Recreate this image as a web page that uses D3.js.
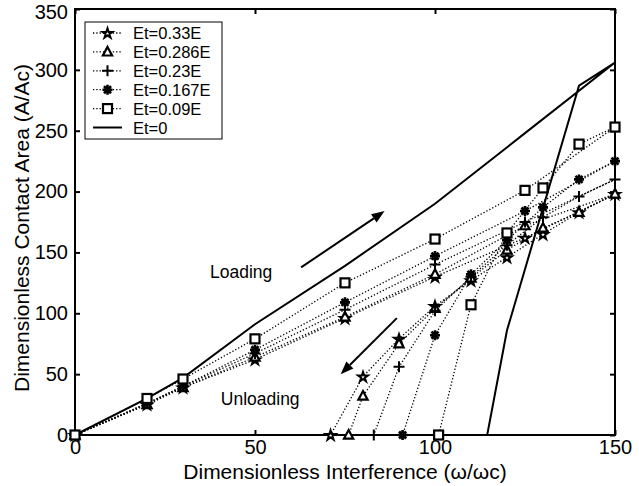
<!DOCTYPE html>
<html>
<head>
<meta charset="utf-8">
<script src="https://cdn.jsdelivr.net/npm/d3@7"></script>
<style>
  body { margin: 0; background: #fff; }
  svg { font-family: "Liberation Sans", Arial, sans-serif; }
</style>
</head>
<body>
<div id="chart"></div>
<script>
// loading abscissae (shared by all Et>0 series)
const loadX = [0, 20, 30, 50, 75, 100, 125, 150];

const seriesNames = ["Et=0.33E", "Et=0.286E", "Et=0.23E", "Et=0.167E", "Et=0.09E"];
const seriesMarkers = ["star", "triangle", "plus", "asterisk", "square"];

const loadStar = [0, 25, 39, 62, 96, 130, 162, 198];
const loadTri = [0, 25, 39, 64, 97, 132, 172, 198];
const loadPlus = [0, 26, 40, 67, 103, 140, 175, 210];
const loadAst = [0, 26, 40, 70, 109, 147, 184, 225];
const loadSq = [0, 30, 46, 79, 125, 161, 201, 253];

const unloadStarX = [150, 140, 130, 120, 110, 100, 90, 80, 71];
const unloadStar = [198, 183, 165, 146, 127, 106, 79, 48, 0];
const unloadTriX = [150, 140, 130, 120, 110, 100, 90, 80, 76];
const unloadTri = [198, 183, 170, 152, 129, 104, 75, 32, 0];
const unloadPlusX = [150, 140, 130, 120, 110, 100, 90, 83];
const unloadPlus = [210, 196, 179, 156, 130, 102, 56, 0];
const unloadAstX = [150, 140, 130, 120, 110, 100, 91];
const unloadAst = [225, 210, 187, 160, 132, 82, 0];
const unloadSqX = [150, 140, 130, 120, 110, 101];
const unloadSq = [253, 239, 203, 166, 107, 0];

// Et=0 (solid)
const elasticX = [0, 20, 30, 50, 75, 100, 125, 150, 140, 120, 114.5];
const elasticY = [0, 30, 47, 91, 139, 190, 248, 306, 287, 86, 0];

const xTicks = [0, 50, 100, 150];
const yTicks = [0, 50, 100, 150, 200, 250, 300, 350];

const loadingArrow = [[62.8, 137.7], [86, 184]];
const unloadingArrow = [[89.4, 96], [73.8, 50]];

const width = 639, height = 486;
const margin = {top: 9, right: 24, bottom: 51, left: 75};

const svg = d3.select("#chart").append("svg")
    .attr("width", width)
    .attr("height", height);

const x = d3.scaleLinear().domain([0, 150]).range([margin.left, width - margin.right]);
const y = d3.scaleLinear().domain([0, 350]).range([height - margin.bottom, margin.top]);

const series = [
    {lx: loadX, ly: loadStar, ux: unloadStarX, uy: unloadStar},
    {lx: loadX, ly: loadTri, ux: unloadTriX, uy: unloadTri},
    {lx: loadX, ly: loadPlus, ux: unloadPlusX, uy: unloadPlus},
    {lx: loadX, ly: loadAst, ux: unloadAstX, uy: unloadAst},
    {lx: loadX, ly: loadSq, ux: unloadSqX, uy: unloadSq}
].map((s, i) => ({
    name: seriesNames[i],
    marker: seriesMarkers[i],
    load: s.lx.map((v, j) => [v, s.ly[j]]),
    unload: s.ux.map((v, j) => [v, s.uy[j]])
}));

// axes with inward ticks on all four sides
const fontTick = 20;
svg.append("g")
    .attr("transform", `translate(0,${y(0)})`)
    .call(d3.axisBottom(x).tickValues(xTicks).tickSize(-5).tickPadding(5).tickSizeOuter(0))
    .call(g => g.select(".domain").remove())
    .call(g => g.selectAll("line").attr("stroke-width", 2))
    .call(g => g.selectAll("text").attr("font-size", fontTick).attr("fill", "#000"));

svg.append("g")
    .attr("transform", `translate(${x(0)},0)`)
    .call(d3.axisLeft(y).tickValues(yTicks).tickSize(-5).tickPadding(7).tickSizeOuter(0))
    .call(g => g.select(".domain").remove())
    .call(g => g.selectAll("line").attr("stroke-width", 2))
    .call(g => g.selectAll("text").attr("font-size", fontTick).attr("fill", "#000"))
    .call(g => g.selectAll(".tick").filter(d => d === 350).select("text").attr("dy", "0.45em"));

svg.append("g")
    .attr("transform", `translate(0,${y(350)})`)
    .call(d3.axisTop(x).tickValues(xTicks).tickSize(-5).tickFormat("").tickSizeOuter(0))
    .call(g => g.select(".domain").remove())
    .call(g => g.selectAll("line").attr("stroke-width", 2));

svg.append("g")
    .attr("transform", `translate(${x(150)},0)`)
    .call(d3.axisRight(y).tickValues(yTicks).tickSize(-5).tickFormat("").tickSizeOuter(0))
    .call(g => g.select(".domain").remove())
    .call(g => g.selectAll("line").attr("stroke-width", 2));

svg.append("rect")
    .attr("x", x(0)).attr("y", y(350))
    .attr("width", x(150) - x(0)).attr("height", y(0) - y(350))
    .attr("fill", "none").attr("stroke", "#000").attr("stroke-width", 2);

// axis titles
svg.append("text")
    .attr("x", (x(0) + x(150)) / 2).attr("y", 479)
    .attr("text-anchor", "middle").attr("font-size", 21)
    .text("Dimensionless Interference (\u03c9/\u03c9c)");

svg.append("text")
    .attr("transform", `translate(29,${(y(0) + y(350)) / 2 + 6}) rotate(-90)`)
    .attr("text-anchor", "middle").attr("font-size", 21)
    .text("Dimensionless Contact Area (A/Ac)");

// marker painter
function drawMarker(g, type, cx, cy) {
    if (type === "square") {
        g.append("rect").attr("x", cx - 4.5).attr("y", cy - 4.5).attr("width", 9).attr("height", 9)
            .attr("fill", "#fff").attr("stroke", "#000").attr("stroke-width", 2.2);
    } else if (type === "triangle") {
        g.append("path")
            .attr("d", `M${cx},${cy - 5}L${cx + 4.6},${cy + 3.6}L${cx - 4.6},${cy + 3.6}Z`)
            .attr("fill", "#fff").attr("stroke", "#000").attr("stroke-width", 2.2);
    } else if (type === "plus") {
        const s = 5.5;
        g.append("path")
            .attr("d", `M${cx - s},${cy}L${cx + s},${cy}M${cx},${cy - s}L${cx},${cy + s}`)
            .attr("stroke", "#000").attr("stroke-width", 2);
    } else if (type === "asterisk") {
        const p = d3.path();
        for (let k = 0; k < 4; k++) {
            const a = k * Math.PI / 4;
            p.moveTo(cx - 5 * Math.cos(a), cy - 5 * Math.sin(a));
            p.lineTo(cx + 5 * Math.cos(a), cy + 5 * Math.sin(a));
        }
        g.append("path").attr("d", p.toString()).attr("stroke", "#000").attr("stroke-width", 2.6);
    } else if (type === "star") {
        g.append("path")
            .attr("transform", `translate(${cx},${cy + 0.5})`)
            .attr("d", d3.symbol(d3.symbolStar, 30)())
            .attr("fill", "#fff").attr("stroke", "#000").attr("stroke-width", 2);
    }
}

const line = d3.line().x(d => x(d[0])).y(d => y(d[1]));

const plot = svg.append("g");

// Et=0 solid curve
plot.append("path")
    .datum(elasticX.map((v, i) => [v, elasticY[i]]))
    .attr("d", line)
    .attr("fill", "none").attr("stroke", "#000").attr("stroke-width", 2);

// dotted curves
series.forEach(s => {
    [s.load, s.unload].forEach(pts => {
        plot.append("path")
            .datum(pts)
            .attr("d", line)
            .attr("fill", "none").attr("stroke", "#000")
            .attr("stroke-width", 1.3).attr("stroke-dasharray", "1.3,2");
    });
});

// markers
series.forEach(s => {
    const g = plot.append("g");
    s.load.concat(s.unload.slice(1)).forEach(d => drawMarker(g, s.marker, x(d[0]), y(d[1])));
});

// annotation arrows
function arrow(pts) {
    const [p0, p1] = pts.map(d => [x(d[0]), y(d[1])]);
    const ang = Math.atan2(p1[1] - p0[1], p1[0] - p0[0]);
    const L = 13, W = 5;
    const bx = p1[0] - L * Math.cos(ang), by = p1[1] - L * Math.sin(ang);
    svg.append("line")
        .attr("x1", p0[0]).attr("y1", p0[1]).attr("x2", bx).attr("y2", by)
        .attr("stroke", "#000").attr("stroke-width", 2);
    svg.append("path")
        .attr("d", `M${p1[0]},${p1[1]}L${bx - W * Math.sin(ang)},${by + W * Math.cos(ang)}L${bx + W * Math.sin(ang)},${by - W * Math.cos(ang)}Z`)
        .attr("fill", "#000");
}
arrow(loadingArrow);
arrow(unloadingArrow);

svg.append("text").attr("x", x(37.5)).attr("y", y(129)).attr("font-size", 17.5).text("Loading");
svg.append("text").attr("x", x(40.5)).attr("y", y(25)).attr("font-size", 17.5).text("Unloading");

// legend
const legend = svg.append("g");
legend.append("rect")
    .attr("x", 85).attr("y", 22).attr("width", 137).attr("height", 117)
    .attr("fill", "#fff").attr("stroke", "#000").attr("stroke-width", 1);

const legendRows = seriesNames.concat(["Et=0"]);
legendRows.forEach((name, i) => {
    const ly = 33 + i * 18.9;
    const row = legend.append("g");
    if (i < seriesNames.length) {
        row.append("line").attr("x1", 93).attr("x2", 122).attr("y1", ly).attr("y2", ly)
            .attr("stroke", "#000").attr("stroke-width", 1.3).attr("stroke-dasharray", "1.3,2");
        drawMarker(row, seriesMarkers[i], 107.5, ly);
    } else {
        row.append("line").attr("x1", 93).attr("x2", 122).attr("y1", ly).attr("y2", ly)
            .attr("stroke", "#000").attr("stroke-width", 2);
    }
    row.append("text").attr("x", 133).attr("y", ly + 6).attr("font-size", 16.5).text(name);
});
</script>
</body>
</html>
